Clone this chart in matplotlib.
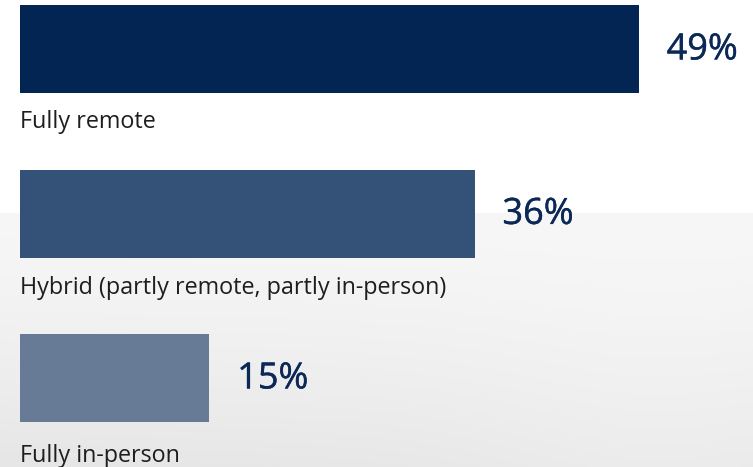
import numpy as np
import matplotlib
matplotlib.use("Agg")
import matplotlib.pyplot as plt
import matplotlib.patheffects as pe

# Work arrangement shares
categories = ["Fully remote", "Hybrid (partly remote, partly in-person)", "Fully in-person"]
shares = [49, 36, 15]
value_labels = ["49%", "36%", "15%"]
bar_colors = ["#022554", "#345277", "#677b97"]

W, H, DPI = 753, 467, 100
fig = plt.figure(figsize=(W / DPI, H / DPI), dpi=DPI)

# Soft grey backdrop: white band on top, light grey gradient below
yy, xx = np.mgrid[0:H, 0:W]
shade = np.ones((H, W))
lower = yy >= 213
t = np.clip((yy - 213) / (H - 213), 0, 1)
grey = (0.968 - 0.055 * t ** 1.4
        - 0.012 * (1 - xx / W) * t
        + 0.012 * np.exp(-((xx - 640) / 170.0) ** 2) * t)
shade[lower] = grey[lower]
bg = np.dstack([shade, shade, shade * 1.004]).clip(0, 1)

bg_ax = fig.add_axes([0, 0, 1, 1], zorder=0)
bg_ax.imshow(bg, aspect="auto", interpolation="bilinear")
bg_ax.axis("off")

ax = fig.add_axes([0, 0, 1, 1], zorder=1)
ax.patch.set_alpha(0)

px_per_unit = 12.63
ax.set_xlim(-20 / px_per_unit, (W - 20) / px_per_unit)
spacing = 164.5
ax.set_ylim((H - 49) / spacing, -49 / spacing)

pos = np.arange(len(categories))
bar_h = 88 / spacing
ax.barh(pos, shares, height=bar_h, color=bar_colors, zorder=2)

# distance (points) from each bar's lower edge down to its caption baseline
caption_drop = [25.2, 26.0, 28.8]
value_color = "#0b2857"
medium = [pe.withStroke(linewidth=0.3, foreground=value_color)]

for i, (v, lab, cat) in enumerate(zip(shares, value_labels, categories)):
    ax.annotate(lab, (v, i), xytext=(20, -1), textcoords="offset points",
                ha="left", va="center", fontsize=26, color=value_color,
                family="Open Sans", path_effects=medium)
    ax.annotate(cat, (0, i + bar_h / 2), xytext=(0, -caption_drop[i]),
                textcoords="offset points",
                ha="left", va="baseline", fontsize=16.8, color="#1e1e1e",
                family="Open Sans")

ax.axis("off")
fig.savefig("out.png", dpi=DPI)
